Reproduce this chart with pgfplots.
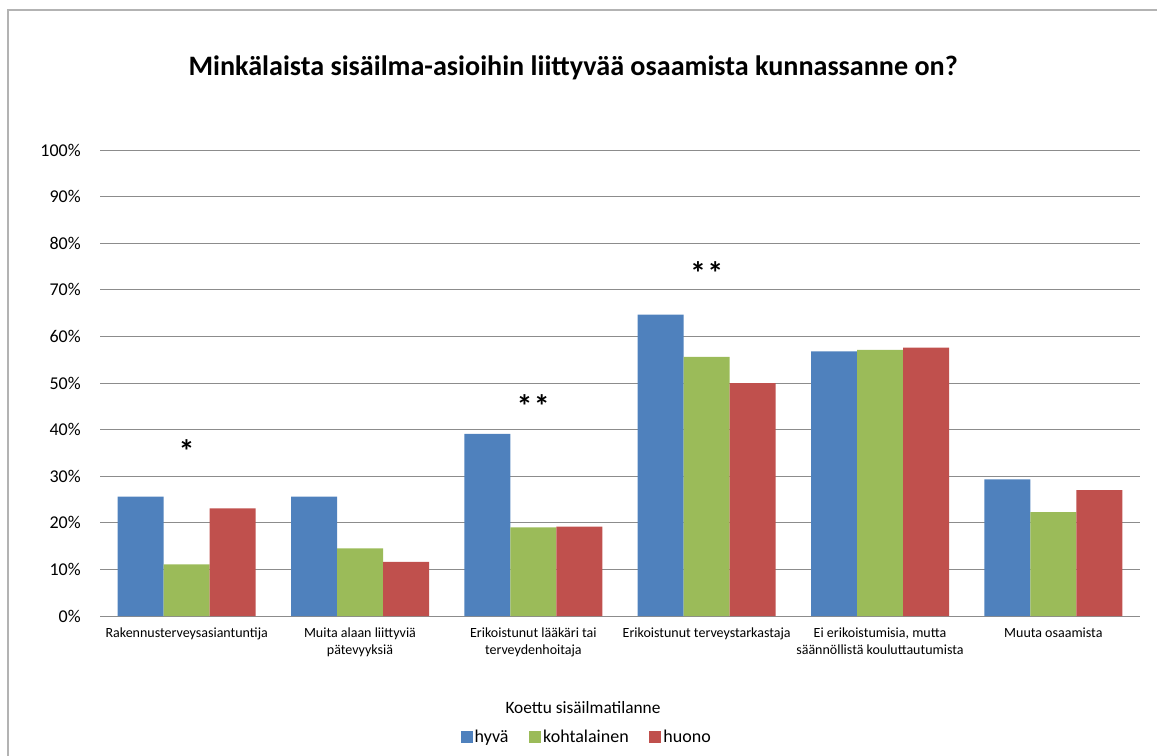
\documentclass[border=0pt]{standalone}
\usepackage{pgfplots}
\pgfplotsset{compat=1.18}
\usepackage{fontspec}
\setmainfont{Carlito}
\definecolor{cblue}{HTML}{4F81BD}
\definecolor{cgreen}{HTML}{9BBB59}
\definecolor{cred}{HTML}{C0504D}
\definecolor{gridc}{HTML}{8C8C8C}
\definecolor{framec}{HTML}{B3B3B3}

\begin{document}
\begin{tikzpicture}[x=0.75pt,y=0.75pt]
\path[use as bounding box] (0,0) rectangle (1157,-756);
\draw[framec, line width=1.5pt] (8,-760) -- (8,-10) -- (1160,-10);
\node[anchor=base, font=\bfseries\fontsize{21.1}{25}\selectfont] at (573,-76) {Minkälaista sisäilma-asioihin liittyvää osaamista kunnassanne on?};
\node[anchor=base, font=\fontsize{13}{16}\selectfont] at (583,-713) {Koettu sisäilmatilanne};
\begin{axis}[
  at={(75pt,-462pt)}, anchor=south west, scale only axis,
  width=780pt, height=349.5pt,
  ymin=0, ymax=100, xmin=-0.5, xmax=5.5,
  ytick={0,10,...,100},
  /pgf/number format/assume math mode=true,
  yticklabel={\pgfmathprintnumber{\tick}\%},
  ymajorgrids, major grid style={gridc, line width=0.75pt},
  axis line style={draw=none},
  tick style={draw=none},
  xtick={0,...,5},
  xticklabels={Rakennusterveysasiantuntija, {Muita alaan liittyviä\\pätevyyksiä}, {Erikoistunut lääkäri tai\\terveydenhoitaja}, Erikoistunut terveystarkastaja, {Ei erikoistumisia, mutta\\säännöllistä kouluttautumista}, Muuta osaamista},
  xticklabel style={font=\fontsize{10.5}{12.3}\selectfont, align=center, inner sep=0pt, anchor=north, yshift=-9pt},
  yticklabel style={font=\fontsize{13.5}{16}\selectfont, inner sep=0pt, anchor=east, xshift=-14.25pt},
  legend columns=3,
  legend style={at={(0.468,-0.2597)}, anchor=center, draw=none, fill=none,
    font=\fontsize{13.5}{16}\selectfont, inner sep=0pt,
    /tikz/every even column/.append style={column sep=14pt},
    nodes={inner sep=1.5pt}},
  legend image code/.code={\fill[#1] (0pt,-4.5pt) rectangle (9pt,4.5pt);},
]
\addplot[ybar, bar width=34.5pt, bar shift=-34.5pt, fill=cblue, draw=none] coordinates {(0,25.6) (1,25.6) (2,39.1) (3,64.7) (4,56.8) (5,29.3)};
\addplot[ybar, bar width=34.5pt, bar shift=0pt, fill=cgreen, draw=none] coordinates {(0,11.1) (1,14.5) (2,19.0) (3,55.6) (4,57.1) (5,22.3)};
\addplot[ybar, bar width=34.5pt, bar shift=34.5pt, fill=cred, draw=none] coordinates {(0,23.1) (1,11.6) (2,19.2) (3,50.0) (4,57.6) (5,27.0)};
\legend{hyvä, kohtalainen, huono}
\node[anchor=base, font=\bfseries\fontsize{24}{28}\selectfont] at (axis cs:0,33.0) {*};
\node[anchor=base, font=\bfseries\fontsize{24}{28}\selectfont] at (axis cs:2,42.5) {*\hspace{1pt}*};
\node[anchor=base, font=\bfseries\fontsize{24}{28}\selectfont] at (axis cs:3,71.2) {*\hspace{1pt}*};
\end{axis}
\end{tikzpicture}
\end{document}
